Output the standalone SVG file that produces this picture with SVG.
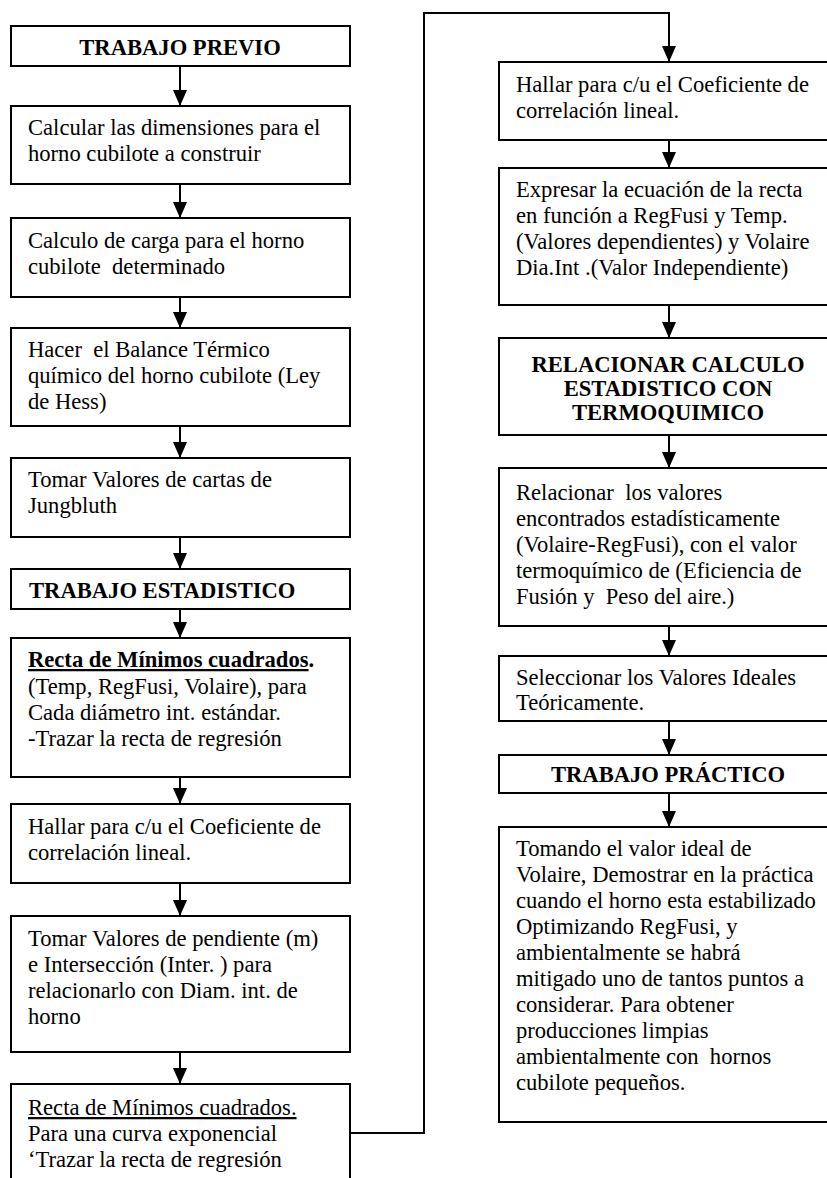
<svg xmlns="http://www.w3.org/2000/svg" width="827" height="1178" viewBox="0 0 827 1178">
<defs>
<marker id="ah" markerWidth="16" markerHeight="14" refX="16" refY="7" orient="auto" markerUnits="userSpaceOnUse" viewBox="0 0 16 14">
<path d="M0,0 L16,7 L0,14 Z" fill="#000"/>
</marker>
</defs>
<style>
rect{fill:#fff;stroke:#000;stroke-width:2}
text{font-family:"Liberation Serif","Times New Roman",serif;font-size:22.6px;fill:#000}
.b{font-weight:bold}
.c{text-anchor:middle}
.u{text-decoration:underline}
.con line,.con path{stroke:#000;stroke-width:2;fill:none}
</style>
<rect width="827" height="1178" style="fill:#fff;stroke:none"/>
<g id="n1"><rect x="11" y="26" width="339" height="40"/><text class="b c" x="180" y="55">TRABAJO PREVIO</text></g>
<g id="n2"><rect x="11" y="106" width="339" height="78"/><text x="28" y="135">Calcular las dimensiones para el</text><text x="28" y="161">horno cubilote a construir</text></g>
<g id="n3"><rect x="11" y="218" width="339" height="79"/><text x="28" y="248" xml:space="preserve">Calculo de carga para el horno</text><text x="28" y="274" xml:space="preserve">cubilote  determinado</text></g>
<g id="n4"><rect x="11" y="328" width="339" height="98"/><text x="28" y="357" xml:space="preserve">Hacer  el Balance Térmico</text><text x="28" y="383">químico del horno cubilote (Ley</text><text x="28" y="409">de Hess)</text></g>
<g id="n5"><rect x="11" y="458" width="339" height="79"/><text x="28" y="487">Tomar Valores de cartas de</text><text x="28" y="513">Jungbluth</text></g>
<g id="n6"><rect x="11" y="569" width="339" height="40"/><text class="b" x="29" y="598">TRABAJO ESTADISTICO</text></g>
<g id="n7"><rect x="11" y="638" width="339" height="139"/><text class="b" x="28" y="667"><tspan class="u">Recta de Mínimos cuadrados</tspan>.</text><text x="28" y="694">(Temp, RegFusi, Volaire), para</text><text x="28" y="720">Cada diámetro int. estándar.</text><text x="28" y="746">-Trazar la recta de regresión</text></g>
<g id="n8"><rect x="11" y="804" width="339" height="79"/><text x="28" y="834">Hallar para c/u el Coeficiente de</text><text x="28" y="860">correlación lineal.</text></g>
<g id="n9"><rect x="11" y="916" width="339" height="136"/><text x="28" y="946">Tomar Valores de pendiente (m)</text><text x="28" y="972">e Intersección (Inter. ) para</text><text x="28" y="998">relacionarlo con Diam. int. de</text><text x="28" y="1024">horno</text></g>
<g id="n10"><rect x="11" y="1084" width="339" height="120"/><text class="u" x="28" y="1115">Recta de Mínimos cuadrados.</text><text x="28" y="1141">Para una curva exponencial</text><text x="28" y="1167">‘Trazar la recta de regresión</text></g>
<g id="r1"><rect x="499" y="62" width="340" height="78"/><text x="516" y="92">Hallar para c/u el Coeficiente de</text><text x="516" y="118">correlación lineal.</text></g>
<g id="r2"><rect x="499" y="168" width="340" height="137"/><text x="516" y="197">Expresar la ecuación de la recta</text><text x="516" y="223">en función a RegFusi y Temp.</text><text x="516" y="249">(Valores dependientes) y Volaire</text><text x="516" y="275">Dia.Int .(Valor Independiente)</text></g>
<g id="r3"><rect x="499" y="338" width="340" height="97"/><text class="b c" x="668" y="372">RELACIONAR CALCULO</text><text class="b c" x="668" y="396">ESTADISTICO CON</text><text class="b c" x="668" y="420">TERMOQUIMICO</text></g>
<g id="r4"><rect x="499" y="468" width="340" height="158"/><text x="516" y="500" xml:space="preserve">Relacionar  los valores</text><text x="516" y="526">encontrados estadísticamente</text><text x="516" y="552">(Volaire-RegFusi), con el valor</text><text x="516" y="578">termoquímico de (Eficiencia de</text><text x="516" y="604" xml:space="preserve">Fusión y  Peso del aire.)</text></g>
<g id="r5"><rect x="499" y="656" width="340" height="65"/><text x="516" y="685">Seleccionar los Valores Ideales</text><text x="516" y="710">Teóricamente.</text></g>
<g id="r6"><rect x="499" y="755" width="340" height="38"/><text class="b c" x="668" y="782">TRABAJO PRÁCTICO</text></g>
<g id="r7"><rect x="499" y="827" width="340" height="295"/><text x="516" y="856">Tomando el valor ideal de</text><text x="516" y="882">Volaire, Demostrar en la práctica</text><text x="516" y="908">cuando el horno esta estabilizado</text><text x="516" y="934">Optimizando RegFusi, y</text><text x="516" y="960">ambientalmente se habrá</text><text x="516" y="986">mitigado uno de tantos puntos a</text><text x="516" y="1012">considerar. Para obtener</text><text x="516" y="1038">producciones limpias</text><text x="516" y="1064" xml:space="preserve">ambientalmente con  hornos</text><text x="516" y="1090">cubilote pequeños.</text></g>
<g class="con">
<line x1="180" y1="66" x2="180" y2="106" marker-end="url(#ah)"/>
<line x1="180" y1="184" x2="180" y2="218" marker-end="url(#ah)"/>
<line x1="180" y1="297" x2="180" y2="328" marker-end="url(#ah)"/>
<line x1="180" y1="426" x2="180" y2="458" marker-end="url(#ah)"/>
<line x1="180" y1="537" x2="180" y2="569" marker-end="url(#ah)"/>
<line x1="180" y1="609" x2="180" y2="638" marker-end="url(#ah)"/>
<line x1="180" y1="777" x2="180" y2="804" marker-end="url(#ah)"/>
<line x1="180" y1="883" x2="180" y2="916" marker-end="url(#ah)"/>
<line x1="180" y1="1052" x2="180" y2="1084" marker-end="url(#ah)"/>
<path d="M350,1133 H424 V13 H669 V62" marker-end="url(#ah)"/>
<line x1="669" y1="140" x2="669" y2="168" marker-end="url(#ah)"/>
<line x1="669" y1="305" x2="669" y2="338" marker-end="url(#ah)"/>
<line x1="669" y1="435" x2="669" y2="468" marker-end="url(#ah)"/>
<line x1="669" y1="626" x2="669" y2="656" marker-end="url(#ah)"/>
<line x1="669" y1="721" x2="669" y2="755" marker-end="url(#ah)"/>
<line x1="669" y1="793" x2="669" y2="827" marker-end="url(#ah)"/>
</g>
</svg>
